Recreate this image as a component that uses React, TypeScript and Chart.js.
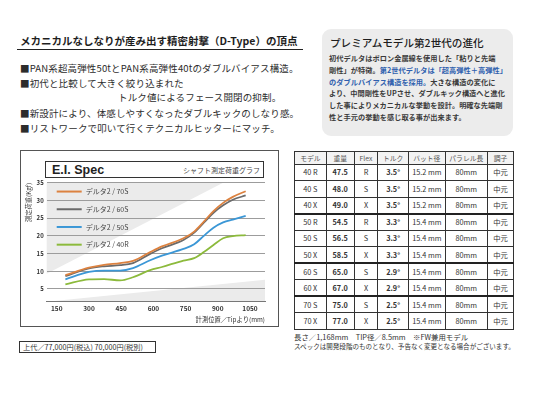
import React, { useEffect, useRef } from "react";
import { Chart, registerables } from "chart.js";

Chart.register(...registerables);

// ---- chart data ----
const positions = [190, 300, 370, 445, 505, 585, 640, 740, 790, 835, 880, 925, 970, 1030];
const delta70S = [8.9, 11.0, 11.8, 12.3, 12.9, 15.4, 17.0, 19.3, 21.2, 24.0, 27.0, 29.3, 31.0, 32.6];
const delta60S = [8.6, 10.8, 11.4, 11.7, 12.3, 14.9, 16.5, 18.8, 20.9, 23.7, 26.5, 28.6, 30.2, 31.4];
const delta50S = [7.7, 9.8, 10.2, 10.2, 10.9, 13.1, 14.4, 16.3, 17.6, 20.0, 22.3, 23.8, 24.6, 25.6];
const delta40R = [6.3, 7.7, 7.8, 7.4, 8.3, 10.3, 11.2, 13.0, 13.7, 15.4, 17.4, 19.3, 19.9, 20.2];
const seriesLabels = ["デルタ2 / 70S", "デルタ2 / 60S", "デルタ2 / 50S", "デルタ2 / 40R"];
const seriesColors = ["#dc8240", "#6b6b6b", "#3b97d6", "#8cba3c"];
const xTicks = [150, 300, 450, 600, 750, 900, 1050];
const yTicks = [5, 10, 15, 20, 25, 30, 35];

// ---- table data ----
const tableHeader = ["モデル", "重量", "Flex", "トルク", "バット径", "パラレル長", "調子"];
const models = ["40 R", "40 S", "40 X", "50 R", "50 S", "50 X", "60 S", "60 X", "70 S", "70 X"];
const weights = ["47.5", "48.0", "49.0", "54.5", "56.5", "58.5", "65.0", "67.0", "75.0", "77.0"];
const flexes = ["R", "S", "X", "R", "S", "X", "S", "X", "S", "X"];
const torques = ["3.5°", "3.5°", "3.5°", "3.3°", "3.3°", "3.3°", "2.9°", "2.9°", "2.5°", "2.5°"];
const buttDiameters = ["15.2 mm", "15.2 mm", "15.2 mm", "15.4 mm", "15.4 mm", "15.4 mm", "15.4 mm", "15.4 mm", "15.4 mm", "15.4 mm"];
const parallelLengths = ["80mm", "80mm", "80mm", "80mm", "80mm", "80mm", "80mm", "80mm", "80mm", "80mm"];
const kickPoints = ["中元", "中元", "中元", "中元", "中元", "中元", "中元", "中元", "中元", "中元"];
const groupEnds = [2, 5, 7];

const FONT = '"Noto Sans CJK JP", "Noto Sans", sans-serif';

function SpecChart() {
  const ref = useRef<HTMLCanvasElement>(null);
  useEffect(() => {
    const series = [delta70S, delta60S, delta50S, delta40R];
    const wedges = {
      id: "wedges",
      beforeDraw(chart: any) {
        const { ctx, scales } = chart;
        const x = scales.x, y = scales.y;
        ctx.save();
        ctx.fillStyle = "#ebebeb";
        ctx.beginPath();
        ctx.moveTo(x.getPixelForValue(x.min), y.getPixelForValue(9.3));
        ctx.lineTo(x.getPixelForValue(x.min), y.getPixelForValue(35));
        ctx.lineTo(x.getPixelForValue(925), y.getPixelForValue(35));
        ctx.closePath();
        ctx.fill();
        ctx.beginPath();
        ctx.moveTo(x.getPixelForValue(x.min), y.getPixelForValue(y.min));
        ctx.lineTo(x.getPixelForValue(x.max), y.getPixelForValue(7.6));
        ctx.lineTo(x.getPixelForValue(x.max), y.getPixelForValue(y.min));
        ctx.closePath();
        ctx.fill();
        ctx.restore();
      },
    };
    const legend = {
      id: "innerLegend",
      afterDatasetsDraw(chart: any) {
        const { ctx, chartArea, scales } = chart;
        ctx.save();
        chart.data.datasets.forEach((ds: any, i: number) => {
          const yy = scales.y.getPixelForValue(32.5 - 5 * i);
          const x0 = chartArea.left + 10;
          ctx.strokeStyle = ds.borderColor;
          ctx.lineWidth = 2;
          ctx.beginPath();
          ctx.moveTo(x0, yy);
          ctx.lineTo(x0 + 25, yy);
          ctx.stroke();
          ctx.fillStyle = "#444";
          ctx.font = `7px ${FONT}`;
          ctx.textBaseline = "middle";
          ctx.fillText(ds.label, x0 + 29, yy);
        });
        ctx.restore();
      },
    };
    const chart = new Chart(ref.current!, {
      type: "line",
      data: {
        datasets: series.map((s, i) => ({
          label: seriesLabels[i],
          data: s.map((v, j) => ({ x: positions[j], y: v })),
          borderColor: seriesColors[i],
          backgroundColor: seriesColors[i],
          borderWidth: 1.8,
          pointRadius: 0,
          cubicInterpolationMode: "monotone" as const,
        })),
      },
      options: {
        animation: false,
        responsive: false,
        maintainAspectRatio: false,
        layout: { padding: { left: 0, right: 13, top: 31.7, bottom: 0 } },
        plugins: { legend: { display: false }, tooltip: { enabled: false } },
        scales: {
          x: {
            type: "linear",
            min: 103,
            max: 1120,
            afterBuildTicks: (a: any) => {
              a.ticks = xTicks.map((v) => ({ value: v }));
            },
            afterFit: (a: any) => {
              a.height = 24.3;
            },
            grid: { display: false, drawTicks: false },
            border: { display: true, color: "#777", width: 1 },
            ticks: {
              padding: 3,
              color: "#333",
              font: { size: 6.5, family: FONT, weight: "bold" },
              maxRotation: 0,
              autoSkip: false,
              callback: (v: any) => String(v),
            },
            title: {
              display: true,
              text: "計測位置／Tipより(mm)",
              align: "end",
              color: "#333",
              padding: { top: 0, bottom: 3 },
              font: { size: 6.3, family: FONT },
            },
          },
          y: {
            min: 1.4,
            max: 35,
            afterBuildTicks: (a: any) => {
              a.ticks = yTicks.map((v) => ({ value: v }));
            },
            afterFit: (a: any) => {
              a.width = 25.7;
            },
            grid: { color: "#9c9c9c", drawTicks: false, lineWidth: 1 },
            border: { display: false },
            ticks: {
              padding: 3,
              color: "#333",
              font: { size: 6, family: FONT, weight: "bold" },
              callback: (v: any) => String(v),
            },
            title: {
              display: true,
              text: "測定荷重(Kgf)",
              align: "end",
              color: "#333",
              padding: { top: 4, bottom: 0 },
              font: { size: 6.3, family: FONT },
            },
          },
        },
      } as any,
      plugins: [wedges, legend],
    });
    return () => chart.destroy();
  }, []);
  return <canvas ref={ref} width={257} height={175} style={{ position: "absolute", left: 0, top: 0, width: 257, height: 175 }} />;
}

const abs = (left: number, top: number, extra: React.CSSProperties = {}): React.CSSProperties => ({
  position: "absolute",
  left,
  top,
  whiteSpace: "nowrap",
  ...extra,
});

export default function App() {
  const bullet: React.CSSProperties = { fontSize: 9.5, lineHeight: "10px", color: "#2c2c2c", letterSpacing: 0.15 };
  const body: React.CSSProperties = { fontSize: 7.2, lineHeight: "8px", color: "#3a3a3a", fontWeight: "bold", letterSpacing: 0.05 };
  const blue = { color: "#2f5fae" };
  const rowH = 16.5;
  const colW = [31.7, 28, 23.6, 30.7, 36.7, 42.3, 26];
  return (
    <div style={{ position: "absolute", left: 0, top: 0, width: 536, height: 400, background: "#fff", overflow: "hidden", fontFamily: FONT }}>
      {/* heading */}
      <div style={abs(20, 34.5, { fontSize: 10.5, lineHeight: "11px", fontWeight: "bold", color: "#1e1e1e", letterSpacing: 0 })}>
        メカニカルなしなりが産み出す精密射撃（D-Type）の頂点
      </div>
      <div style={abs(17, 49, { width: 286, height: 1, background: "#222" })} />
      <div style={abs(20, 62.7, bullet)}>■PAN系超高弾性50tとPAN系高弾性40tのダブルバイアス構造。</div>
      <div style={abs(20, 78.3, bullet)}>■初代と比較して大きく絞り込まれた</div>
      <div style={abs(118, 92.3, bullet)}>トルク値によるフェース開閉の抑制。</div>
      <div style={abs(20, 108.3, bullet)}>■新設計により、体感しやすくなったダブルキックのしなり感。</div>
      <div style={abs(20, 123.3, bullet)}>■リストワークで叩いて行くテクニカルヒッターにマッチ。</div>

      {/* premium box */}
      <div style={abs(322, 29, { width: 191, height: 107, background: "#ececec", borderRadius: 9 })} />
      <div style={abs(330, 36.8, { fontSize: 10.6, lineHeight: "12px", color: "#1e1e1e", fontWeight: 500 })}>プレミアムモデル第2世代の進化</div>
      <div style={abs(329, 54.3, body)}>初代デルタはボロン金属線を使用した「粘りと先端</div>
      <div style={abs(329, 66, body)}>
        剛性」が特徴。<span style={blue}>第2世代デルタは「超高弾性＋高弾性」</span>
      </div>
      <div style={abs(329, 77.7, body)}>
        <span style={blue}>のダブルバイアス構造を採用。</span>大きな構造の変化に
      </div>
      <div style={abs(329, 89.3, body)}>より、中間剛性をUPさせ、ダブルキック構造へと進化</div>
      <div style={abs(329, 101, body)}>した事によりメカニカルな挙動を設計。明確な先端剛</div>
      <div style={abs(329, 112.7, body)}>性と手元の挙動を感じ取る事が出来ます。</div>

      {/* chart */}
      <div style={abs(20, 150, { width: 257, height: 175, border: "1px solid #555" })}>
        <SpecChart />
        <div style={abs(24, 10, { width: 217, height: 14.5, border: "1px solid #333", background: "#fff" })}>
          <span style={abs(6, 0.5, { fontSize: 12.5, lineHeight: "14px", fontWeight: "bold", fontFamily: '"Liberation Sans", Arial, sans-serif', color: "#222" })}>E.I. Spec</span>
          <span style={abs(137, 3.5, { fontSize: 7, lineHeight: "8px", color: "#444" })}>シャフト測定荷重グラフ</span>
        </div>
      </div>

      {/* price */}
      <div style={abs(19, 340.5, { width: 132, height: 10, border: "1px solid #333", fontSize: 7.2, lineHeight: "10px", color: "#333", paddingLeft: 3, boxSizing: "content-box" })}>
        上代／77,000円(税込) 70,000円(税別)
      </div>

      {/* table */}
      <table
        style={{
          position: "absolute",
          left: 294,
          top: 151,
          width: 219,
          borderCollapse: "collapse",
          tableLayout: "fixed",
          fontSize: 7.3,
          color: "#333",
          textAlign: "center",
        }}
      >
        <colgroup>
          {colW.map((w, i) => (
            <col key={i} style={{ width: w }} />
          ))}
        </colgroup>
        <thead>
          <tr style={{ height: 12.5 }}>
            {tableHeader.map((h, i) => (
              <th key={i} style={{ border: "1px solid #333", padding: 0, fontWeight: "normal", fontSize: 6.8, color: "#555", background: "#f3f3f3", lineHeight: "10px" }}>
                {h}
              </th>
            ))}
          </tr>
        </thead>
        <tbody>
          {models.map((m, r) => {
            const cells = [m, weights[r], flexes[r], torques[r], buttDiameters[r], parallelLengths[r], kickPoints[r]];
            const thick = groupEnds.includes(r);
            return (
              <tr key={r} style={{ height: rowH }}>
                {cells.map((c, i) => (
                  <td
                    key={i}
                    style={{
                      border: "1px solid #333",
                      borderBottom: thick ? "2px solid #222" : "1px solid #333",
                      padding: 0,
                      lineHeight: "10px",
                      fontWeight: i === 1 || i === 3 ? "bold" : "normal",
                    }}
                  >
                    {c}
                  </td>
                ))}
              </tr>
            );
          })}
        </tbody>
      </table>
      <div style={abs(294, 332.5, { fontSize: 7.4, lineHeight: "8px", color: "#333" })}>長さ／1,168mm　TIP径／8.5mm　※FW兼用モデル</div>
      <div style={abs(294, 343.2, { fontSize: 6.55, lineHeight: "7px", color: "#333" })}>スペックは開発段階のものとなり、予告なく変更となる場合がございます。</div>
    </div>
  );
}
